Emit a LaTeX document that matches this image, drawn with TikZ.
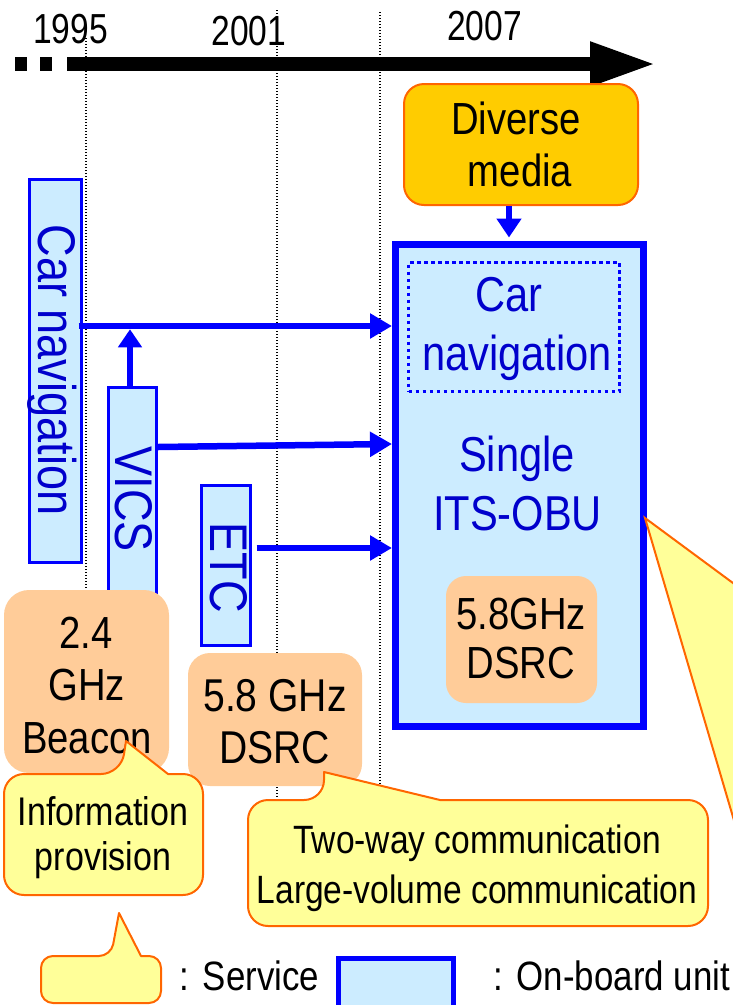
\documentclass[tikz,border=0pt]{standalone}
\usepackage{fontspec}
\setmainfont[FakeStretch=0.85]{Liberation Sans}
\newfontfamily\yearfont[FakeStretch=0.8]{Liberation Sans}
\usetikzlibrary{arrows.meta}
\definecolor{obublue}{RGB}{0,0,255}
\definecolor{obutext}{RGB}{0,0,204}
\definecolor{obufill}{RGB}{204,236,255}
\definecolor{peach}{RGB}{255,204,153}
\definecolor{gold}{RGB}{255,204,0}
\definecolor{callfill}{RGB}{255,255,153}
\definecolor{callline}{RGB}{255,102,0}
\newcommand{\myfs}[1]{\fontsize{#1}{#1}\selectfont}
\begin{document}
\begin{tikzpicture}[x=1pt,y=-1pt,
  txt/.style={inner sep=0pt, anchor=base},
  obubox/.style={draw=obublue, fill=obufill, line width=3pt, inner sep=0pt},
  flow/.style={draw=obublue, line width=6.5pt, -{Triangle[length=22pt,width=24pt]}},
  guide/.style={line width=1.2pt, dash pattern=on 1.2pt off 1.8pt},
  callout/.style={fill=callfill, draw=callline, line width=2pt, line join=round},
  peachbox/.style={fill=peach, rounded corners=22pt, inner sep=0pt},
]
\useasboundingbox (0,0) rectangle (733,1005);

% guide lines
\coordinate (g1t) at (86,38);  \coordinate (g1b) at (86,770);
\coordinate (g2t) at (277,10); \coordinate (g2b) at (277,800);
\coordinate (g3t) at (380,12); \coordinate (g3b) at (380,790);
\draw[guide] (g1t) -- (g1b);
\draw[guide] (g2t) -- (g2b);
\draw[guide] (g3t) -- (g3b);

% timeline
\coordinate (d0) at (15,64); \coordinate (d1) at (53,64);
\coordinate (ts) at (67,64); \coordinate (te) at (656,64);
\draw[line width=14pt, dash pattern=on 12pt off 13pt] (d0) -- (d1);
\draw[line width=14pt, -{Triangle[length=66pt,width=41pt]}] (ts) -- (te);
\node[txt] (y1995) at (70.5,43) {\yearfont\myfs{42}1995};
\node[txt] (y2001) at (249,45) {\yearfont\myfs{42}2001};
\node[txt] (y2007) at (484.5,40) {\yearfont\myfs{42}2007};

% left on-board units
\node[obubox, minimum width=52pt, minimum height=383pt] (carnav) at (55.5,371) {};
\node[txt, rotate=-90, text=obutext] (carnavt) at (38,370) {\myfs{53}Car navigation};
\node[obubox, minimum width=48pt, minimum height=263pt] (vics) at (132.5,519) {};
\node[txt, rotate=-90, text=obutext] (vicst) at (115,499) {\myfs{53}VICS};
\node[obubox, minimum width=49pt, minimum height=160pt] (etc) at (226,565.5) {};
\node[txt, rotate=-90, text=obutext] (etct) at (210,567.5) {\myfs{53}ETC};

% single ITS-OBU
\node[obubox, line width=7pt, minimum width=248pt, minimum height=482pt] (obu) at (519.5,485.5) {};
\node[draw=obublue, line width=3pt, dash pattern=on 3.5pt off 3.5pt, minimum width=211pt, minimum height=129pt, inner sep=0pt] (navin) at (514,327) {};
\node[txt, text=obutext] (nav1) at (509,311) {\myfs{49}Car};
\node[txt, text=obutext] (nav2) at (517,370) {\myfs{49}navigation};
\node[txt, text=obutext] (obu1) at (517,471) {\myfs{49}Single};
\node[txt, text=obutext] (obu2) at (517.5,530) {\myfs{49}ITS-OBU};
\node[peachbox, rounded corners=20pt, minimum width=151pt, minimum height=127pt] (dsrcin) at (521.5,639.5) {};
\node[txt] (dsi1) at (521,629) {\myfs{45}5.8GHz};
\node[txt] (dsi2) at (521,678) {\myfs{45}DSRC};

% diverse media
\node[fill=gold, draw=callline, line width=2pt, rounded corners=20pt, minimum width=234pt, minimum height=121pt, inner sep=0pt] (diverse) at (521,144.5) {};
\node[txt] (dv1) at (516,134) {\myfs{45}Diverse};
\node[txt] (dv2) at (520,186) {\myfs{45}media};
\coordinate (dvx) at (509,0);
\draw[flow, -{Triangle[length=19pt,width=24pt]}, shorten >=3.5pt] (diverse.south -| dvx) -- (obu.north -| dvx);

% connectors into the single OBU
\coordinate (r1) at (0,326); \coordinate (r2a) at (0,447);
\coordinate (r2b) at (0,444); \coordinate (r3) at (0,548);
\coordinate (vup) at ([xshift=-2.5pt]vics.north);
\draw[flow, shorten <=-4.5pt] (carnav.east |- r1) -- (obu.west |- r1);
\draw[flow, -{Triangle[length=18pt,width=23pt]}, shorten >=3.25pt] (vup) -- (vup |- r1);
\draw[flow] (vics.east |- r2a) -- (obu.west |- r2b);
\draw[flow, shorten <=4.5pt] (etc.east |- r3) -- (obu.west |- r3);

% media boxes
\node[peachbox, rounded corners=25pt, minimum width=165pt, minimum height=183pt] (beacon) at (86.5,681.5) {};
\node[txt] (bc1) at (86,648) {\myfs{45}2.4};
\node[txt] (bc2) at (86.5,700) {\myfs{45}GHz};
\node[txt] (bc3) at (87,753) {\myfs{45}Beacon};
\node[peachbox, minimum width=174pt, minimum height=133pt] (dsrc) at (275,719.5) {};
\node[txt] (ds1) at (275,711) {\myfs{46}5.8 GHz};
\node[txt] (ds2) at (274.5,763) {\myfs{46}DSRC};

% service callouts
\draw[callout] (168,774) [rounded corners=20pt] -- (203,774) -- (203,895) -- (4,895) -- (4,774) -- (121,774) [sharp corners] -- (126,741) -- (168,774) -- cycle;
\node[txt] (inf1) at (103,825) {\myfs{40}Information};
\node[txt] (inf2) at (103,870) {\myfs{40}provision};
\draw[callout] (440,800) [rounded corners=20pt] -- (708,800) -- (708,926) -- (248,926) -- (248,800) -- (324,800) [sharp corners] -- (324,772) -- (440,800) -- cycle;
\node[txt] (tw1) at (477,853) {\myfs{39.5}Two-way communication};
\node[txt] (tw2) at (477,903) {\myfs{39.5}Large-volume communication};
\fill[callfill] (645,518) -- (735,584.5) -- (735,823.8) -- cycle;
\draw[callline, line width=2pt] (735,584.5) -- (645,518) -- (735,823.8);

% legend
\draw[callout] (141,956) [rounded corners=12pt] -- (161,956) -- (161,1003) -- (41,1003) -- (41,956) -- (111,956) [sharp corners] -- (119,913) -- (141,956) -- cycle;
\node[txt, anchor=base west] (lg1) at (179,990) {\myfs{41}:\hspace{14pt}Service};
\node[obubox, line width=5pt, minimum width=115pt, minimum height=60pt] (lgbox) at (396,988.5) {};
\node[txt, anchor=base west] (lg2) at (493,990) {\myfs{41}:\hspace{14pt}On-board unit};
\end{tikzpicture}
\end{document}
